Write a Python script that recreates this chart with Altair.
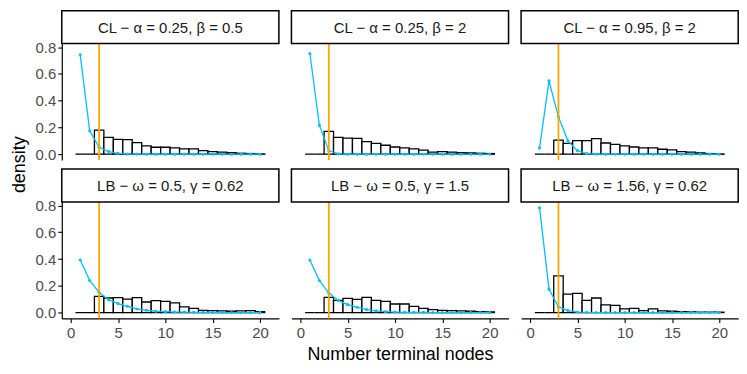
import altair as alt
import pandas as pd

# ---------------- data ----------------
NODES = list(range(1, 21))
TRUE_NODES = 3

LABELS = [
    "CL − α = 0.25, β = 0.5",
    "CL − α = 0.25, β = 2",
    "CL − α = 0.95, β = 2",
    "LB − ω = 0.5, γ = 0.62",
    "LB − ω = 0.5, γ = 1.5",
    "LB − ω = 1.56, γ = 0.62",
]

HIST_1 = [0, 0, 0.18, 0.126, 0.111, 0.109, 0.086, 0.062, 0.052, 0.052, 0.047, 0.04, 0.04, 0.027, 0.02, 0.015, 0.012, 0.007, 0.005, 0.002]
HIST_2 = [0, 0, 0.17, 0.126, 0.121, 0.119, 0.094, 0.081, 0.067, 0.054, 0.047, 0.04, 0.03, 0.015, 0.02, 0.015, 0.012, 0.01, 0.007, 0.005]
HIST_3 = [0, 0, 0.106, 0.081, 0.101, 0.101, 0.116, 0.084, 0.074, 0.062, 0.054, 0.047, 0.047, 0.037, 0.032, 0.02, 0.015, 0.01, 0.005, 0.002]
HIST_4 = [0, 0, 0.121, 0.109, 0.111, 0.101, 0.111, 0.079, 0.089, 0.084, 0.072, 0.042, 0.032, 0.017, 0.015, 0.012, 0.01, 0.012, 0.015, 0.007]
HIST_5 = [0, 0, 0.114, 0.091, 0.106, 0.099, 0.114, 0.091, 0.084, 0.064, 0.064, 0.047, 0.032, 0.022, 0.017, 0.015, 0.012, 0.01, 0.007, 0.005]
HIST_6 = [0, 0, 0.274, 0.138, 0.143, 0.091, 0.109, 0.057, 0.054, 0.027, 0.032, 0.015, 0.027, 0.012, 0.01, 0.007, 0.005, 0.003, 0.003, 0.003]

PRIOR_1 = [0.743, 0.175, 0.052, 0.02, 0.007, 0.002, 0.001, 0, 0, 0, 0, 0, 0, 0, 0, 0, 0, 0, 0, 0]
PRIOR_2 = [0.753, 0.217, 0.027, 0.003, 0, 0, 0, 0, 0, 0, 0, 0, 0, 0, 0, 0, 0, 0, 0, 0]
PRIOR_3 = [0.047, 0.548, 0.279, 0.10, 0.027, 0.005, 0.001, 0, 0, 0, 0, 0, 0, 0, 0, 0, 0, 0, 0, 0]
PRIOR_4 = [0.393, 0.24, 0.15, 0.096, 0.067, 0.047, 0.027, 0.017, 0.01, 0.007, 0.004, 0.003, 0.002, 0.001, 0.001, 0, 0, 0, 0, 0]
PRIOR_5 = [0.393, 0.24, 0.146, 0.091, 0.059, 0.04, 0.022, 0.013, 0.007, 0.004, 0.002, 0.001, 0.001, 0, 0, 0, 0, 0, 0, 0]
PRIOR_6 = [0.783, 0.175, 0.042, 0.015, 0.004, 0.001, 0, 0, 0, 0, 0, 0, 0, 0, 0, 0, 0, 0, 0, 0]

HISTS = [HIST_1, HIST_2, HIST_3, HIST_4, HIST_5, HIST_6]
PRIORS = [PRIOR_1, PRIOR_2, PRIOR_3, PRIOR_4, PRIOR_5, PRIOR_6]

X_TICKS = [0, 5, 10, 15, 20]
Y_TICKS = [0.0, 0.2, 0.4, 0.6, 0.8]

# ---------------- layout ----------------
W = 218      # panel width
SH = 33      # strip height
PH = 117     # data-area height
FONT = "Liberation Sans"
XDOM = [-0.95, 22.0]
YDOM = [-0.044, 0.827]
# extend the y scale upward so the strip sits above the data area
YTOP = YDOM[1] + SH * (YDOM[1] - YDOM[0]) / PH
YSCALE = alt.Scale(domain=[YDOM[0], YTOP], nice=False, zero=False)
XSCALE = alt.Scale(domain=XDOM, nice=False, zero=False)


def x_axis(show_axis, title):
    if not show_axis:
        return None
    return alt.Axis(values=X_TICKS, title=title, grid=False, domainColor="black",
                    domainWidth=1.2, tickColor="black", tickSize=4, tickWidth=1.1,
                    labelColor="#4D4D4D", labelFontSize=15, labelPadding=3,
                    labelOverlap=False,
                    titleFontSize=18, titleFontWeight="normal", titleColor="black",
                    titlePadding=5)


def y_axis(show_axis):
    if not show_axis:
        return None
    return alt.Axis(values=Y_TICKS, format=".1f", title=None, grid=False,
                    domainColor="black", domainWidth=1.2,
                    tickColor="black", tickSize=4, tickWidth=1.1,
                    labelColor="#4D4D4D", labelFontSize=15, labelPadding=2,
                    labelOverlap=False)


def x_enc(field, show_axis, title):
    return alt.X(field, type="quantitative", scale=XSCALE, axis=x_axis(show_axis, title))


def y_enc(field, show_axis):
    return alt.Y(field, type="quantitative", scale=YSCALE, axis=y_axis(show_axis))


def panel(i):
    row, col = divmod(i, 3)
    show_x = row == 1
    show_y = col == 0
    xtitle = "Number terminal nodes" if (row == 1 and col == 1) else None

    hist_df = pd.DataFrame({"x": NODES, "density": HISTS[i]})
    prior_df = pd.DataFrame({"x": NODES, "prior": PRIORS[i]})
    rule_df = pd.DataFrame({"x": [TRUE_NODES]})
    strip_df = pd.DataFrame({"label": [LABELS[i]]})

    bars = alt.Chart(hist_df).transform_calculate(
        x0="datum.x - 0.5", x1="datum.x + 0.5"
    ).mark_rect(fill="white", stroke="black", strokeWidth=1.3).encode(
        x=x_enc("x0", show_x, xtitle), x2="x1:Q",
        y=y_enc("density", show_y), y2=alt.datum(0),
    )
    line = alt.Chart(prior_df).mark_line(
        color="#00BFFF", strokeWidth=1.3,
        point=alt.OverlayMarkDef(color="#00BFFF", size=10, filled=True),
    ).encode(x=x_enc("x", show_x, xtitle), y=y_enc("prior", show_y))
    rule = alt.Chart(rule_df).mark_rule(color="#FFA500", strokeWidth=1.8).encode(
        x=x_enc("x", show_x, xtitle),
        y=alt.Y(datum=YDOM[0], type="quantitative", scale=YSCALE, axis=y_axis(show_y)),
        y2=alt.Y2(datum=YDOM[1]),
    )
    strip_box = alt.Chart(strip_df).mark_rect(fill="white", stroke="black", strokeWidth=1.5).encode(
        x=alt.value(0), x2=alt.value(W), y=alt.value(0), y2=alt.value(SH)
    )
    strip_txt = alt.Chart(strip_df).mark_text(font=FONT, fontSize=15, color="#1A1A1A").encode(
        text="label:N", x=alt.value(W / 2), y=alt.value(SH / 2 + 1)
    )
    return alt.layer(bars, line, rule, strip_box, strip_txt).properties(width=W, height=SH + PH)


rows = [alt.hconcat(*[panel(r * 3 + c) for c in range(3)], spacing=10.6) for r in range(2)]

chart = alt.vconcat(*rows, spacing=5).properties(
    title=alt.TitleParams("density", orient="left", anchor="middle", fontSize=18,
                          fontWeight="normal", color="black", font=FONT, offset=6, dx=22),
    padding={"left": 3, "top": 1, "right": 0, "bottom": 0},
).configure(font=FONT).configure_view(stroke=None)

chart.save("out.html", embed_options={"renderer": "svg", "actions": False})
